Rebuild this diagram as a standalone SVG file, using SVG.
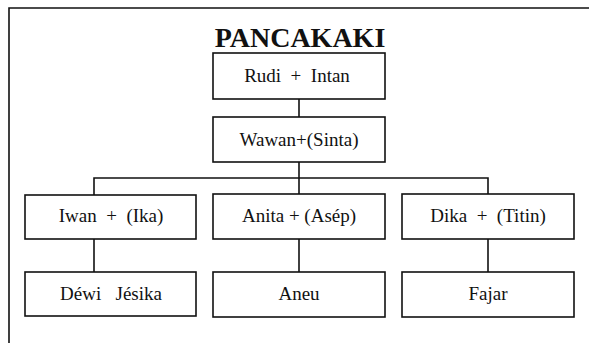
<svg xmlns="http://www.w3.org/2000/svg" width="589" height="343" viewBox="0 0 589 343">
<style>
.box{fill:#fff;stroke:#111;stroke-width:1.6}
.lbl{font-size:19px;fill:#111;text-anchor:middle;white-space:pre}
.title{font-size:28px;font-weight:bold;fill:#111;text-anchor:middle}
.ln{stroke:#111;stroke-width:1.6;fill:none}
</style>
<rect width="589" height="343" fill="#fff"/>
<g id="frame">
<path class="ln" d="M9 343 V8 H589" stroke-width="2"/>
</g>
<g font-family="'Liberation Serif', 'Times New Roman', serif">
<text class="title" x="300" y="47">PANCAKAKI</text>
<g id="connectors">
<path class="ln" d="M299 99 V117"/>
<path class="ln" d="M299 162 V194"/>
<path class="ln" d="M94 195 V178 H488 V194"/>
<path class="ln" d="M94 239 V272"/>
<path class="ln" d="M299 239 V272"/>
<path class="ln" d="M488 239 V272"/>
</g>
<g id="rudi"><rect class="box" x="213" y="53" width="172" height="46"/><text class="lbl" x="297" y="82" xml:space="preserve">Rudi  +  Intan</text></g>
<g id="wawan"><rect class="box" x="213" y="117" width="172" height="45"/><text class="lbl" x="299" y="146">Wawan+(Sinta)</text></g>
<g id="iwan"><rect class="box" x="25" y="195" width="171" height="44"/><text class="lbl" x="111" y="222" xml:space="preserve">Iwan  +  (Ika)</text></g>
<g id="anita"><rect class="box" x="213" y="194" width="172" height="45"/><text class="lbl" x="299" y="222">Anita + (Asép)</text></g>
<g id="dika"><rect class="box" x="402" y="194" width="172" height="45"/><text class="lbl" x="488" y="222" xml:space="preserve">Dika  +  (Titin)</text></g>
<g id="dewi"><rect class="box" x="25" y="272" width="171" height="44"/><text class="lbl" x="111" y="300" xml:space="preserve">Déwi   Jésika</text></g>
<g id="aneu"><rect class="box" x="213" y="272" width="172" height="45"/><text class="lbl" x="299" y="300">Aneu</text></g>
<g id="fajar"><rect class="box" x="402" y="272" width="172" height="45"/><text class="lbl" x="488" y="300">Fajar</text></g>
</g>
</svg>
